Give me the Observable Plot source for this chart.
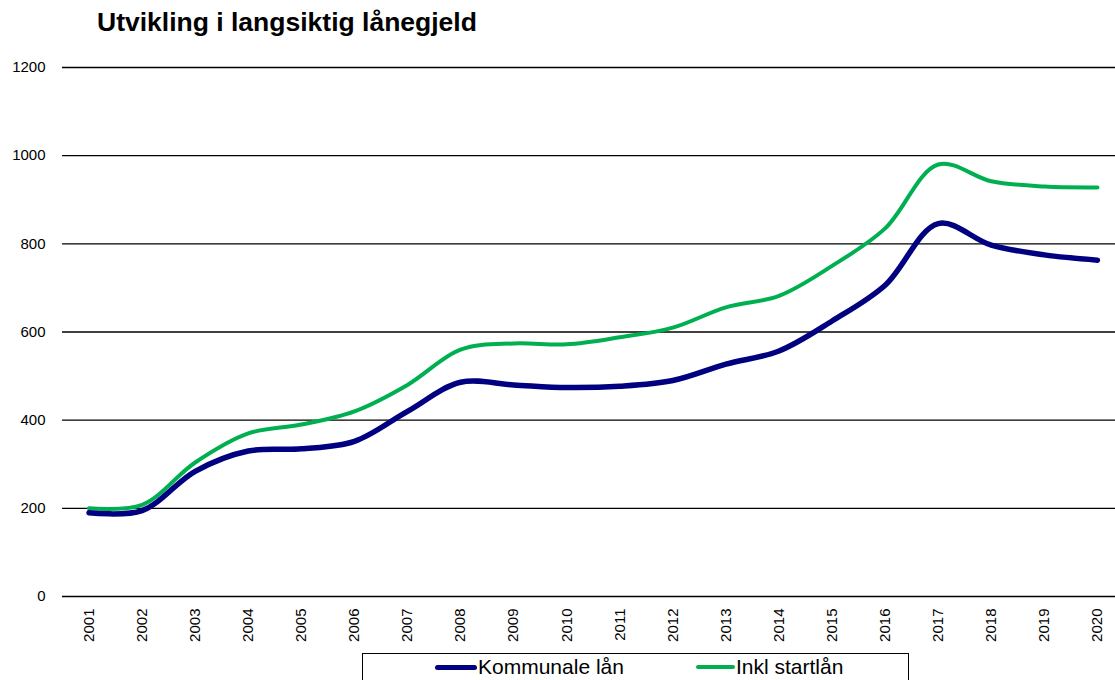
<!DOCTYPE html>
<html>
<head>
<meta charset="utf-8">
<script src="https://cdn.jsdelivr.net/npm/d3@7"></script>
<script src="https://cdn.jsdelivr.net/npm/@observablehq/plot@0.6"></script>
<style>
  html, body { margin: 0; padding: 0; background: #fff; overflow: hidden; }
  body { font-family: "Liberation Sans", Arial, sans-serif; width: 1115px; height: 680px; position: relative; }
  #title { position: absolute; left: 97px; top: 7px; font-size: 26.5px; font-weight: bold; color: #000; white-space: nowrap; }
  #chart { position: absolute; left: 0; top: 0; }
  #legend { position: absolute; left: 362px; top: 653px; width: 547px; height: 40px; border: 1.5px solid #000; box-sizing: border-box; background: #fff; }
  .item { position: absolute; top: 1px; display: flex; align-items: center; font-size: 21px; color: #000; white-space: nowrap; }
  .sw { display: inline-block; width: 42px; border-radius: 3px; margin-right: 1px; }
</style>
</head>
<body>
<div id="title">Utvikling i langsiktig lånegjeld</div>
<div id="chart"></div>
<div id="legend">
  <div class="item" style="left:72px"><span class="sw" style="height:5px;background:#000080"></span>Kommunale lån</div>
  <div class="item" style="left:333px"><span class="sw" style="height:4px;background:#00B050;width:39px"></span>Inkl startlån</div>
</div>
<script>
const years = [2001,2002,2003,2004,2005,2006,2007,2008,2009,2010,2011,2012,2013,2014,2015,2016,2017,2018,2019,2020];
const kommunale = [190,195,284,330,335,352,420,486,480,474,477,490,527,557,625,706,846,797,775,763];
const inklStartlan = [200,208,304,370,390,420,480,560,574,572,588,610,656,682,750,835,980,942,930,928];
const yTicks = [0,200,400,600,800,1000,1200];
const seriesNames = ["Kommunale lån", "Inkl startlån"];
const seriesColors = ["#000080", "#00B050"];

const rows = [];
years.forEach((yr, i) => {
  rows.push({year: yr, value: kommunale[i], series: seriesNames[0]});
  rows.push({year: yr, value: inklStartlan[i], series: seriesNames[1]});
});

const plot = Plot.plot({
  width: 1115,
  height: 650,
  marginTop: 67,
  marginBottom: 54,
  marginLeft: 62,
  marginRight: 0,
  style: {fontFamily: '"Liberation Sans", Arial, sans-serif', fontSize: "15px", color: "#000", background: "transparent"},
  x: {type: "linear", domain: [2000.5, 2020.34]},
  y: {domain: [0, 1200]},
  marks: [
    Plot.ruleY(yTicks, {stroke: "#000", strokeWidth: 1.3}),
    Plot.axisY({ticks: yTicks, tickFormat: d => String(d), tickSize: 0, tickPadding: 17, fontSize: 15, label: null}),
    Plot.axisX({ticks: years, tickFormat: d => String(d), tickRotate: -90, tickSize: 0, tickPadding: 12, fontSize: 15, label: null}),
    Plot.line(rows.filter(d => d.series === seriesNames[1]), {x: "year", y: "value", stroke: seriesColors[1], strokeWidth: 4, curve: "catmull-rom"}),
    Plot.line(rows.filter(d => d.series === seriesNames[0]), {x: "year", y: "value", stroke: seriesColors[0], strokeWidth: 5.5, curve: "catmull-rom"})
  ]
});
document.getElementById("chart").appendChild(plot);
</script>
</body>
</html>
